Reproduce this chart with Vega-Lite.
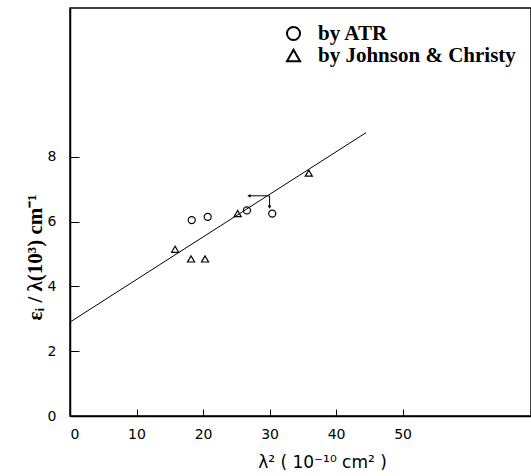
{
  "$schema": "https://vega.github.io/schema/vega-lite/v6.json",
  "width": 461,
  "height": 408,
  "autosize": {"type": "none"},
  "padding": {"left": 70, "top": 8, "right": 0, "bottom": 60},
  "background": "white",
  "config": {
    "view": {"stroke": "black", "strokeWidth": 1.5},
    "axis": {"grid": false, "domainColor": "black", "domainWidth": 1.5, "tickColor": "black", "labelColor": "black", "titleColor": "black"}
  },
  "layer": [
    {
      "data": {"values": [{"x": 0, "y": 2.9}, {"x": 44.5, "y": 8.75}]},
      "mark": {"type": "line", "color": "black", "strokeWidth": 1},
      "encoding": {
        "x": {
          "field": "x", "type": "quantitative",
          "scale": {"domain": [0, 69.3], "nice": false, "zero": false},
          "axis": {
            "values": [0, 10, 20, 30, 40, 50], "tickSize": -7, "labelPadding": 18,
            "labelFont": "DejaVu Sans", "labelFontSize": 14,
            "title": "λ²  ( 10⁻¹⁰ cm² )", "titleFont": "DejaVu Sans", "titleFontSize": 17, "titleFontWeight": "normal",
            "titleX": 252, "titleY": 46, "titleAnchor": "middle", "titleAlign": "center", "titleBaseline": "middle"
          }
        },
        "y": {
          "field": "y", "type": "quantitative",
          "scale": {"domain": [0, 12.6], "nice": false, "zero": false},
          "axis": {
            "values": [0, 2, 4, 6, 8], "tickSize": -9, "labelPadding": 23,
            "labelFont": "DejaVu Sans", "labelFontSize": 14,
            "title": "εᵢ / λ(10³) cm⁻¹", "titleFont": "Liberation Serif", "titleFontSize": 21, "titleFontWeight": "bold",
            "titleX": -35, "titleY": 249, "titleAnchor": "middle", "titleAlign": "center", "titleBaseline": "middle"
          }
        }
      }
    },
    {
      "data": {"values": [
        {"x": 18.3, "y": 6.05, "series": "by ATR"},
        {"x": 20.7, "y": 6.15, "series": "by ATR"},
        {"x": 26.6, "y": 6.35, "series": "by ATR"},
        {"x": 30.4, "y": 6.25, "series": "by ATR"},
        {"x": 15.8, "y": 5.15, "series": "by Johnson & Christy"},
        {"x": 18.2, "y": 4.85, "series": "by Johnson & Christy"},
        {"x": 20.3, "y": 4.85, "series": "by Johnson & Christy"},
        {"x": 25.2, "y": 6.25, "series": "by Johnson & Christy"},
        {"x": 35.9, "y": 7.5, "series": "by Johnson & Christy"}
      ]},
      "mark": {"type": "point", "filled": false, "stroke": "black", "strokeWidth": 1.2, "size": 50, "opacity": 1},
      "encoding": {
        "x": {"field": "x", "type": "quantitative"},
        "y": {"field": "y", "type": "quantitative"},
        "shape": {
          "field": "series", "type": "nominal",
          "scale": {"domain": ["by ATR", "by Johnson & Christy"], "range": ["circle", "triangle-up"]},
          "legend": {
            "title": null, "orient": "none", "legendX": 213, "legendY": 15,
            "labelFont": "Liberation Serif", "labelFontSize": 21, "labelFontWeight": "bold", "labelColor": "black", "labelLimit": 0,
            "symbolSize": 170, "symbolStrokeWidth": 2, "symbolStrokeColor": "black", "symbolFillColor": "transparent",
            "rowPadding": -4, "labelOffset": 14
          }
        }
      }
    },
    {
      "data": {"values": [
        {"x": 30, "y": 6.8, "x2": 26.9, "y2": 6.8},
        {"x": 30, "y": 6.8, "x2": 30, "y2": 6.45}
      ]},
      "mark": {"type": "rule", "color": "black", "strokeWidth": 1},
      "encoding": {
        "x": {"field": "x", "type": "quantitative"},
        "y": {"field": "y", "type": "quantitative"},
        "x2": {"field": "x2"},
        "y2": {"field": "y2"}
      }
    },
    {
      "data": {"values": [
        {"x": 26.9, "y": 6.8, "head": "triangle-left"},
        {"x": 30, "y": 6.45, "head": "triangle-down"}
      ]},
      "mark": {"type": "point", "filled": true, "color": "black", "size": 14, "opacity": 1},
      "encoding": {
        "x": {"field": "x", "type": "quantitative"},
        "y": {"field": "y", "type": "quantitative"},
        "shape": {"field": "head", "type": "nominal", "scale": null, "legend": null}
      }
    }
  ]
}
